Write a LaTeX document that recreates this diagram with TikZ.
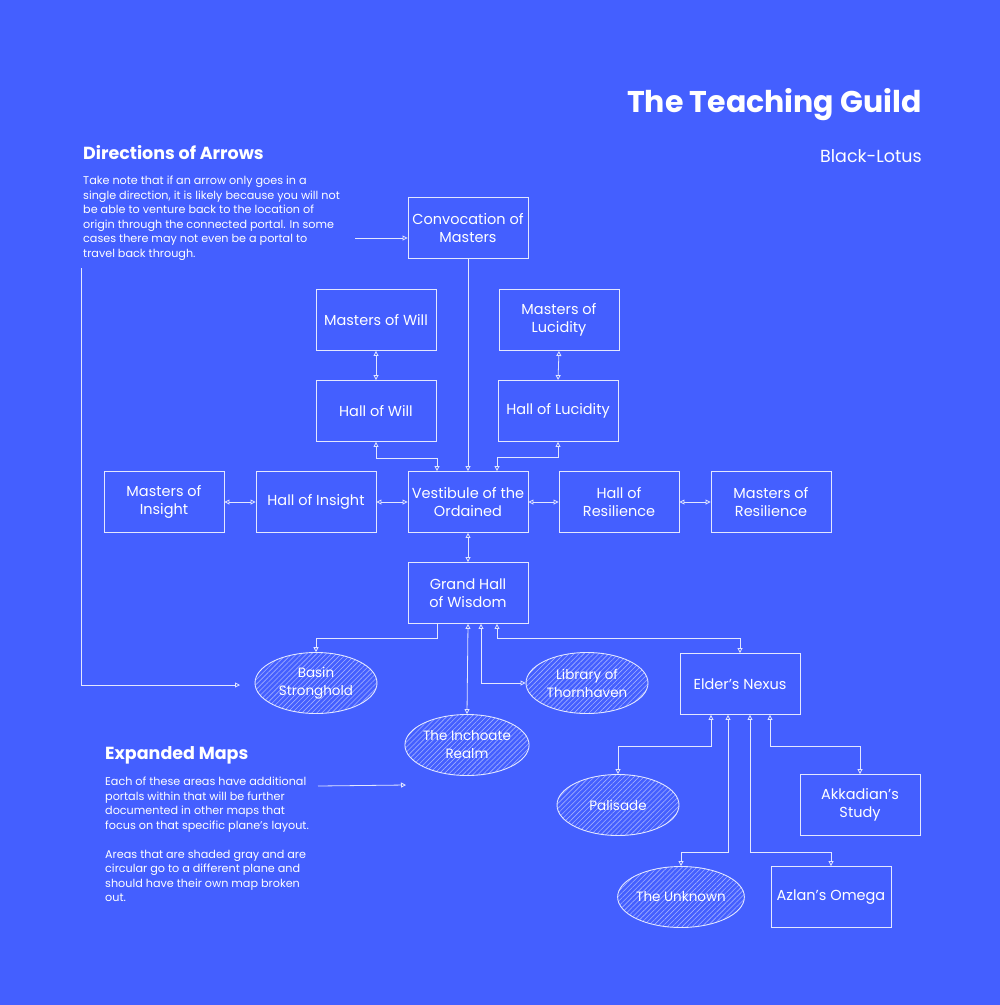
\documentclass[tikz,border=0pt]{standalone}
\usepackage{fontspec}
\setmainfont{Poppins}
\usetikzlibrary{arrows.meta,shapes.geometric,patterns.meta,calc}
\definecolor{bgblue}{RGB}{68,95,255}
\colorlet{ink}{white!85!bgblue}
\colorlet{hatch}{white!50!bgblue}
\begin{document}
\begin{tikzpicture}[x=1pt,y=-1pt,
  every node/.style={text=white},
  room/.style={draw=ink, line width=0.9pt, minimum width=120pt, minimum height=61pt,
    inner sep=1pt, align=center, font=\fontsize{14.5}{18}\selectfont},
  plane/.style={ellipse, draw=ink, line width=0.9pt, minimum width=122pt, minimum height=61pt,
    inner sep=0pt, align=center, font=\fontsize{13.5}{18}\selectfont,
    pattern={Lines[angle=45,distance=3.5pt,line width=0.6pt]}, pattern color=hatch},
  link/.style={draw=ink, line width=0.8pt, -{Triangle[open,length=5pt,width=5pt]}},
  bilink/.style={draw=ink, line width=0.8pt, {Triangle[open,length=5pt,width=5pt]}-{Triangle[open,length=5pt,width=5pt]}},
  heading/.style={anchor=base west, font=\fontsize{17.5}{20}\selectfont\bfseries, inner sep=0pt},
  para/.style={anchor=north west, align=left, inner sep=0pt, font=\fontsize{11.2}{14.5}\selectfont}
]
\fill[bgblue] (0,0) rectangle (1000,1005);
\useasboundingbox (0,0) rectangle (1000,1005);

% titles
\node[anchor=base east, inner sep=0pt, font=\fontsize{30}{36}\selectfont\bfseries] (title) at (922,112) {The Teaching Guild};
\node[anchor=base east, inner sep=0pt, font=\fontsize{17.5}{18}\selectfont] (author) at (922,162) {Black-Lotus};

\node[heading] (dirhead) at (83,159) {Directions of Arrows};
\node[para] (dirtext) at (83,176) {Take note that if an arrow only goes in a\\single direction, it is likely because you will not\\be able to venture back to the location of\\origin through the connected portal. In some\\cases there may not even be a portal to\\travel back through.};

\node[heading] (exphead) at (105,759) {Expanded Maps};
\node[para] (exptext) at (105,777) {Each of these areas have additional\\portals within that will be further\\documented in other maps that\\focus on that specific plane's layout.\\[14.5pt]Areas that are shaded gray and are\\circular go to a different plane and\\should have their own map broken\\out.};

% rooms
\node[room] (conv) at (468,228) {Convocation of\\Masters};
\node[room] (mwill) at (376,320) {Masters of Will};
\node[room] (mluc) at (559,320) {Masters of\\Lucidity};
\node[room] (hwill) at (376,411) {Hall of Will};
\node[room] (hluc) at (558,411) {Hall of Lucidity};
\node[room] (mins) at (164,502) {Masters of\\Insight};
\node[room] (hins) at (316,502) {Hall of Insight};
\node[room] (vest) at (468,502) {Vestibule of the\\Ordained};
\node[room] (hres) at (619,502) {Hall of\\Resilience};
\node[room] (mres) at (771,502) {Masters of\\Resilience};
\node[room] (grand) at (468,593) {Grand Hall\\of Wisdom};
\node[room] (nexus) at (740,684) {Elder's Nexus};
\node[room] (akk) at (860,805) {Akkadian's\\Study};
\node[room] (azlan) at (831,897) {Azlan's Omega};

% planes
\node[plane] (basin) at (316,683) {Basin\\Stronghold};
\node[plane] (inch) at (467,745) {The Inchoate\\Realm};
\node[plane] (lib) at (587,683) {Library of\\Thornhaven};
\node[plane] (pal) at (618,805) {Palisade};
\node[plane] (unk) at (681,897) {The Unknown};

% annotation arrows
\coordinate (dirfrom) at (355,238);
\coordinate (dirstart) at (81,268);
\coordinate (dirend) at (240,685);
\coordinate (expfrom) at (318,786);
\coordinate (expto) at (406,785);
\draw[link] (dirfrom) -- (conv.west |- dirfrom);
\draw[link] (dirstart) |- (dirend);
\draw[link] (expfrom) -- (expto);

% connectors
\draw[link] (conv.south) -- (vest.north);
\draw[bilink] (mwill.south) -- (hwill.north);
\draw[bilink] (mluc.south) -- (hluc.north);
\draw[bilink] (hwill.south) -- ++(0,16) -| ([xshift=-31pt]vest.north);
\draw[bilink] (hluc.south) -- ++(0,15) -| ([xshift=29pt]vest.north);
\draw[bilink] (mins.east) -- (hins.west);
\draw[bilink] (hins.east) -- (vest.west);
\draw[bilink] (vest.east) -- (hres.west);
\draw[bilink] (hres.east) -- (mres.west);
\draw[bilink] (vest.south) -- (grand.north);
\draw[link] ([xshift=-31pt]grand.south) -- ++(0,14) -| (basin.north);
\draw[bilink] (grand.south) -- (inch.north);
\draw[bilink] ([xshift=13pt]grand.south) |- (lib.west);
\draw[bilink] ([xshift=29pt]grand.south) -- ++(0,14) -| (nexus.north);
\draw[bilink] ([xshift=-29pt]nexus.south) -- ++(0,31) -| (pal.north);
\draw[bilink] ([xshift=-12pt]nexus.south) -- ++(0,137) -| (unk.north);
\draw[bilink] ([xshift=10pt]nexus.south) -- ++(0,137) -| (azlan.north);
\draw[bilink] ([xshift=30pt]nexus.south) -- ++(0,31) -| (akk.north);
\end{tikzpicture}
\end{document}
